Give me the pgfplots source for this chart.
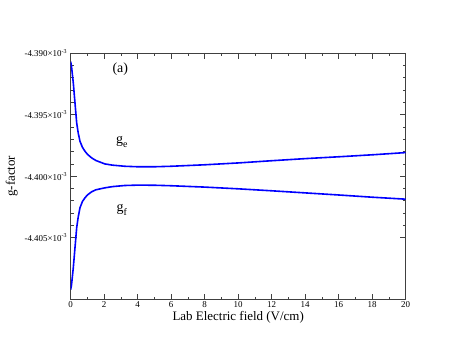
\documentclass[border=0pt]{standalone}
\usepackage{fontspec}
\setmainfont{Liberation Serif}
\usepackage{pgfplots}
\pgfplotsset{compat=1.18}

\pgfplotstableread{
E g
0     -4.39070
0.05  -4.39110
0.155 -4.39243
0.256 -4.39405
0.357 -4.39567
0.45  -4.39650
0.554 -4.39716
0.7   -4.39765
0.851 -4.39797
1.0   -4.39822
1.25  -4.39851
1.5   -4.39872
2.04  -4.39900
2.5   -4.39910
3.23  -4.39919
4     -4.39923
5     -4.39923
6     -4.39919
8     -4.39907
10    -4.39892
12    -4.39874
14    -4.39857
16    -4.39842
18    -4.39826
20    -4.39808
}\gedata

\pgfplotstableread{
E g
0     -4.40920
0.05  -4.40880
0.155 -4.40742
0.256 -4.40580
0.357 -4.40418
0.45  -4.40330
0.554 -4.40256
0.7   -4.40205
0.851 -4.40175
1.0   -4.40152
1.25  -4.40126
1.5   -4.40110
2.04  -4.40094
2.5   -4.40084
3.23  -4.40075
4     -4.40072
5     -4.40073
6     -4.40077
8     -4.40088
10    -4.40102
12    -4.40118
14    -4.40135
16    -4.40152
18    -4.40170
20    -4.40186
}\gfdata

\newcommand{\sub}[1]{\raisebox{-0.3em}{\fontsize{10}{11}\selectfont #1}}

\begin{document}
\begin{tikzpicture}
% page = whole 457x353 canvas, axis box at 70.7..406 / 53..299.5 px
\path[use as bounding box] (-70.7bp,-53.5bp) rectangle (386.3bp,299.5bp);
\begin{axis}[
  scale only axis,
  width=335bp, height=246.5bp,
  xmin=0, xmax=20, ymin=-4.410, ymax=-4.390,
  xtick={0,2,...,20}, minor x tick num=1,
  ytick={-4.390,-4.395,-4.400,-4.405},
  yticklabels={-4.390×10\textsuperscript{-3},-4.395×10\textsuperscript{-3},
               -4.400×10\textsuperscript{-3},-4.405×10\textsuperscript{-3}},
  minor y tick num=4,
  tick align=inside,
  major tick length=6bp, minor tick length=3bp,
  axis line style={black!75, line width=0.8bp},
  every tick/.style={black!75, line width=0.8bp},
  tick label style={font=\fontsize{9}{10}\selectfont},
  /pgf/number format/assume math mode=true,
  xticklabel style={yshift=1bp},
  xlabel={Lab Electric field (V/cm)},
  ylabel={g-factor},
  label style={font=\fontsize{13}{15}\selectfont},
  xlabel style={yshift=4bp},
]
\addplot[blue, line width=1.6bp, line join=round] table[x=E, y=g] {\gedata};
\addplot[blue, line width=1.6bp, line join=round] table[x=E, y=g] {\gfdata};
\node[font=\fontsize{14}{16}\selectfont] at (axis cs:2.96,-4.39135) {(a)};
\node[font=\fontsize{14}{16}\selectfont] at (axis cs:3.05,-4.39720) {g\sub{e}};
\node[font=\fontsize{14}{16}\selectfont] at (axis cs:3.05,-4.40270) {g\sub{f}};
\end{axis}
\end{tikzpicture}
\end{document}
